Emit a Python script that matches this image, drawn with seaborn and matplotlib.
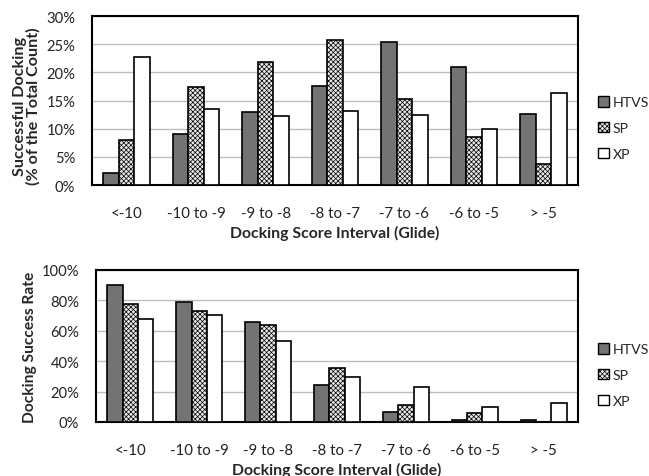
import numpy as np
import pandas as pd
import matplotlib
matplotlib.use("Agg")
import matplotlib.pyplot as plt
import seaborn as sns
from matplotlib.patches import Patch
from matplotlib.ticker import FuncFormatter

categories = ["<-10", "-10 to -9", "-9 to -8", "-8 to -7", "-7 to -6", "-6 to -5", "> -5"]
methods = ["HTVS", "SP", "XP"]

# Top panel: successful docking (% of total count)
top_htvs = [2.1, 9.0, 12.9, 17.5, 25.3, 20.9, 12.6]
top_sp = [8.0, 17.4, 21.8, 25.7, 15.3, 8.5, 3.7]
top_xp = [22.7, 13.5, 12.2, 13.1, 12.5, 9.9, 16.3]

# Bottom panel: docking success rate (%)
bot_htvs = [90.3, 79.0, 65.9, 24.3, 6.8, 1.5, 1.4]
bot_sp = [77.7, 72.9, 64.1, 35.7, 11.3, 6.0, 0.0]
bot_xp = [67.6, 70.5, 53.2, 29.5, 22.8, 9.8, 12.8]

sns.set_theme(style="white")
plt.rcParams['font.family'] = ['Lato', 'DejaVu Sans']
plt.rcParams['hatch.linewidth'] = 0.5
plt.rcParams['hatch.color'] = '#a0a0a0'

colors = {"HTVS": "#737373", "SP": "#e8e8e8", "XP": "#ffffff"}
SP_HATCH = "xxxxxxx"


def long_df(h, s, x):
    rows = []
    for m, vals in zip(methods, [h, s, x]):
        for c, v in zip(categories, vals):
            rows.append({"Interval": c, "Method": m, "Value": v})
    return pd.DataFrame(rows)


W, H = 649, 477
fig = plt.figure(figsize=(W / 100, H / 100), dpi=100)


def box(l, r, t, b):
    return [l / W, 1 - b / H, (r - l) / W, (b - t) / H]


ax1 = fig.add_axes(box(92, 578, 17, 186))
ax2 = fig.add_axes(box(96, 578, 271, 423))


def draw(ax, df, ymax, step, ylabel, ylabel_size, label_x, label_y, legend_y):
    sns.barplot(data=df, x="Interval", y="Value", hue="Method", hue_order=methods,
                order=categories, palette=colors, width=0.67, gap=0,
                edgecolor="black", linewidth=1.2, saturation=1, ax=ax, legend=False,
                zorder=3)
    for cont, m in zip(ax.containers, methods):
        for p in cont.patches:
            if m == "SP":
                p.set_hatch(SP_HATCH)
    ax.set_ylim(0, ymax)
    ax.set_yticks(np.arange(0, ymax + 0.001, step))
    ax.yaxis.set_major_formatter(FuncFormatter(lambda v, _: f"{v:.0f}%"))
    ax.grid(axis="y", color="#bdbdbd", linewidth=1.0, zorder=0)
    ax.set_axisbelow(True)
    for s in ax.spines.values():
        s.set_visible(True)
        s.set_color("black")
        s.set_linewidth(1.5)
    ax.tick_params(axis="x", length=0, pad=15, labelsize=10.8, colors="#222222")
    ax.tick_params(axis="y", length=0, pad=12, labelsize=10.6, colors="#222222")
    ax.set_xlabel("Docking Score Interval (Glide)", fontsize=11.3, fontweight="bold",
                  labelpad=4)
    ax.set_ylabel(ylabel, fontsize=ylabel_size, fontweight="bold", linespacing=1.0)
    ax.yaxis.set_label_coords(label_x, label_y)
    handles = [Patch(facecolor=colors[m], edgecolor="black", linewidth=1.0,
                     hatch=(SP_HATCH if m == "SP" else None)) for m in methods]
    fig.legend(handles, methods, loc="center left",
               bbox_to_anchor=(598 / W, 1 - legend_y / H), frameon=False,
               fontsize=10.2, handlelength=0.75, handleheight=0.75, handletextpad=0.3,
               labelspacing=0.95, borderpad=0, borderaxespad=0)


draw(ax1, long_df(top_htvs, top_sp, top_xp), 30, 5,
     "Successful Docking\n(% of the Total Count)", 11.6, (41 - 92) / 486, 0.473, 129)
draw(ax2, long_df(bot_htvs, bot_sp, bot_xp), 100, 20,
     "Docking Success Rate", 11.2, (37 - 96) / 482, 0.5, 376)

fig.savefig("out.png", dpi=100)
